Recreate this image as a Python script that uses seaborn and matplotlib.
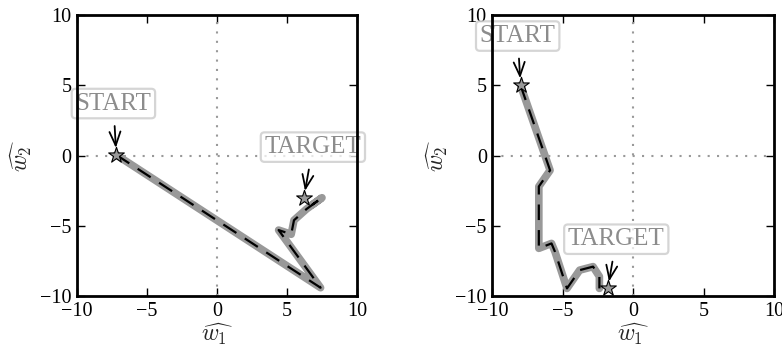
import numpy as np
import pandas as pd
import matplotlib
matplotlib.use("Agg")
import matplotlib.pyplot as plt
import seaborn as sns

# Optimisation paths in the (w1_hat, w2_hat) plane
left_w1 = [-7.2, 7.4, 4.4, 5.3, 5.5, 6.4, 7.5, 6.8]
left_w2 = [0.05, -9.4, -5.3, -5.6, -4.6, -3.8, -3.0, -3.5]
left_start = (-7.2, 0.05)
left_target = (6.2, -3.0)

right_w1 = [-8.0, -5.9, -6.7, -6.7, -5.8, -5.55, -4.7, -3.8, -2.85, -2.4, -2.4]
right_w2 = [5.0, -1.05, -2.2, -6.6, -6.25, -6.85, -9.45, -8.15, -7.9, -8.6, -9.45]
right_start = (-8.0, 5.0)
right_target = (-1.8, -9.45)

ticks = [-10, -5, 0, 5, 10]
tick_labels = ["\u221210", "\u22125", "0", "5", "10"]

sns.set_style("ticks", {
    "xtick.direction": "in",
    "ytick.direction": "in",
    "axes.edgecolor": "black",
})
plt.rcParams["font.family"] = ["Liberation Serif", "DejaVu Serif"]
plt.rcParams["mathtext.fontset"] = "cm"

fig = plt.figure(figsize=(7.82, 3.48), dpi=100)
ax1 = fig.add_axes([0.0985, 0.149, 0.358, 0.808])
ax2 = fig.add_axes([0.6296, 0.149, 0.3602, 0.808])

panels = [
    (ax1, left_w1, left_w2, left_start, left_target,
     (-7.4, 3.7), (6.85, 0.6)),
    (ax2, right_w1, right_w2, right_start, right_target,
     (-8.2, 8.5), (-1.2, -5.95)),
]

box = dict(boxstyle="round,pad=0.15", fc="white", ec="#c8c8c8", lw=1.6, alpha=0.75)
arrow = dict(arrowstyle="->,head_length=0.55,head_width=0.22", color="black",
             lw=1.3, shrinkA=5, shrinkB=5, mutation_scale=18)

for ax, w1, w2, start, target, start_txt, target_txt in panels:
    ax.axhline(0, color="#999999", ls=(0, (1, 3.5)), lw=1.5, zorder=1)
    ax.axvline(0, color="#999999", ls=(0, (1, 3.5)), lw=1.5, zorder=1)

    path = pd.DataFrame({"w1": w1, "w2": w2})
    sns.lineplot(data=path, x="w1", y="w2", sort=False, estimator=None,
                 color="#999999", lw=5.5, solid_capstyle="round",
                 solid_joinstyle="round", ax=ax, zorder=2)
    sns.lineplot(data=path, x="w1", y="w2", sort=False, estimator=None,
                 color="black", lw=1.6, dashes=False, ax=ax, zorder=3)
    ax.lines[-1].set_dashes([7, 4.5])

    pts = pd.DataFrame({"w1": [start[0], target[0]], "w2": [start[1], target[1]]})
    sns.scatterplot(data=pts, x="w1", y="w2", marker="*", s=140,
                    color="#999999", edgecolor="black", linewidth=0.8,
                    ax=ax, zorder=4)

    ax.annotate("START", xy=start, xytext=start_txt, ha="center", va="center",
                fontsize=18, color="#8c8c8c", bbox=box, arrowprops=arrow,
                zorder=2.4, annotation_clip=False)
    ax.annotate("TARGET", xy=target, xytext=target_txt, ha="center", va="center",
                fontsize=18, color="#8c8c8c", bbox=box, arrowprops=arrow,
                zorder=2.4, annotation_clip=False)

    ax.set_xlim(-10, 10)
    ax.set_ylim(-10, 10)
    ax.set_xticks(ticks)
    ax.set_yticks(ticks)
    ax.set_xticklabels(tick_labels)
    ax.set_yticklabels(tick_labels)
    ax.tick_params(direction="in", length=6, width=1.0, top=True, right=True,
                   labelsize=14.5, pad=4, colors="black")
    for sp in ax.spines.values():
        sp.set_linewidth(2.0)
        sp.set_visible(True)
        sp.set_zorder(5)
    ax.set_xlabel(r"$\widehat{w_1}$", fontsize=17, labelpad=0)
    ax.set_ylabel(r"$\widehat{w_2}$", fontsize=17, labelpad=4)

fig.savefig("out.png", dpi=100)
